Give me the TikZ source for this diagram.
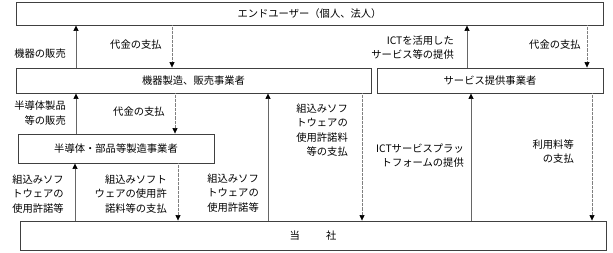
\documentclass[tikz,border=0pt]{standalone}
\usepackage{fontspec}
\setmainfont{Noto Sans CJK JP}
\usetikzlibrary{arrows.meta}
\begin{document}
\begin{tikzpicture}[x=1pt,y=-1pt,
  box/.style={draw=black!75, line width=0.9pt, inner sep=0pt, font=\fontsize{10.3}{14}\selectfont},
  lbl/.style={inner sep=0pt, align=right, font=\fontsize{10.3}{14.5}\selectfont},
  tipA/.style={-{Triangle[length=5.5pt,width=5pt,color=black]}},
  uparr/.style={tipA, draw=black!60, line width=0.7pt},
  dnarr/.style={tipA, draw=black!50, line width=0.6pt, dash pattern=on 0.6pt off 0.7pt}]
\useasboundingbox[fill=white] (0,0) rectangle (613,252);
% boxes
\node[box, minimum width=587pt, minimum height=23pt] (eu) at (309.5,13.5) {エンドユーザー（個人、法人）};
\node[box, minimum width=355pt, minimum height=25pt] (kiki) at (193.5,80.5) {機器製造、販売事業者};
\node[box, minimum width=226pt, minimum height=25pt] (svc) at (490,80.5) {サービス提供事業者};
\node[box, minimum width=196pt, minimum height=29pt] (semi) at (116,148.5) {半導体・部品等製造事業者};
\node[box, minimum width=586pt, minimum height=29pt] (tosha) at (313,235.5) {当\hspace{26pt}社};
% arrows
\draw[uparr] (kiki.north -| 76,0) -- (eu.south -| 76,0);
\draw[dnarr] (eu.south -| 172,0) -- (kiki.north -| 172,0);
\draw[uparr] (svc.north -| 467,0) -- (eu.south -| 467,0);
\draw[dnarr] (eu.south -| 587,0) -- (svc.north -| 587,0);
\draw[uparr] (semi.north -| 76,0) -- (kiki.south -| 76,0);
\draw[dnarr] (kiki.south -| 175,0) -- (semi.north -| 175,0);
\draw[uparr] (tosha.north -| 75,0) -- (semi.south -| 75,0);
\draw[dnarr] (semi.south -| 178,0) -- (tosha.north -| 178,0);
\draw[uparr] (tosha.north -| 268,0) -- (kiki.south -| 268,0);
\draw[dnarr] (kiki.south -| 362,0) -- (tosha.north -| 362,0);
\draw[uparr] (tosha.north -| 471,0) -- (svc.south -| 471,0);
\draw[dnarr] (svc.south -| 592,0) -- (tosha.north -| 592,0);
% labels
\node[lbl, anchor=east] (l1) at (66,54) {機器の販売};
\node[lbl, anchor=west] (l2) at (110,45) {代金の支払};
\node[lbl, anchor=east] (l3) at (454,47.5) {ICTを活用した\\サービス等の提供};
\node[lbl, anchor=west] (l4) at (529,45) {代金の支払};
\node[lbl, anchor=east] (l5) at (66,113) {半導体製品\\等の販売};
\node[lbl, anchor=west] (l6) at (113,112) {代金の支払};
\node[lbl, anchor=east] (l7) at (64,194) {組込みソフ\\トウェアの\\使用許諾等};
\node[lbl, anchor=east] (l8) at (167,194) {組込みソフト\\ウェアの使用許\\諾料等の支払};
\node[lbl, anchor=east] (l9) at (259,193) {組込みソフ\\トウェアの\\使用許諾等};
\node[lbl, anchor=east] (l10) at (348,130) {組込みソフ\\トウェアの\\使用許諾料\\等の支払};
\node[lbl, anchor=east] (l11) at (464,155.5) {ICTサービスプラッ\\トフォームの提供};
\node[lbl, anchor=east] (l12) at (574,151.5) {利用料等\\の支払};
\end{tikzpicture}
\end{document}
